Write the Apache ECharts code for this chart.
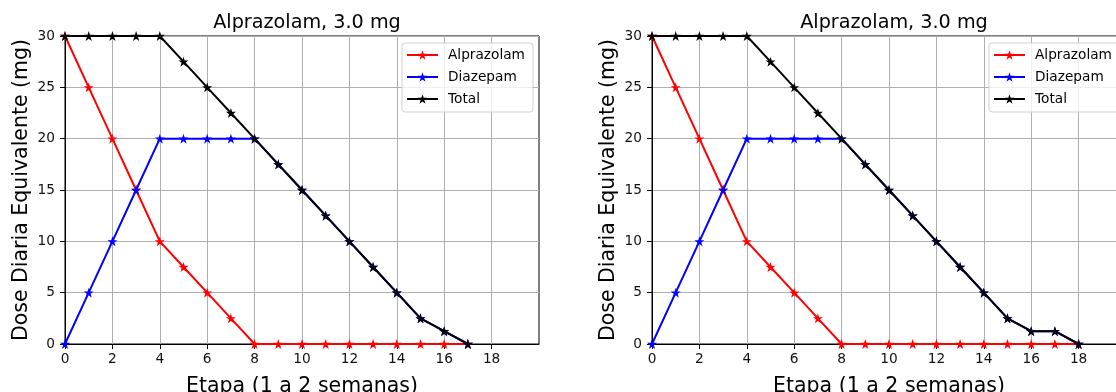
<!DOCTYPE html>
<html>
<head>
<meta charset="utf-8">
<script src="https://cdn.jsdelivr.net/npm/echarts@6/dist/echarts.min.js"></script>
<style>
  html, body { margin: 0; padding: 0; background: #fff; }
  #chart { width: 1116px; height: 392px; }
</style>
</head>
<body>
<div id="chart"></div>
<script>
// datos
const stepsA = [0, 1, 2, 3, 4, 5, 6, 7, 8, 9, 10, 11, 12, 13, 14, 15, 16, 17]
const alprazolamA = [30, 25, 20, 15, 10, 7.5, 5, 2.5, 0, 0, 0, 0, 0, 0, 0, 0, 0, 0]
const diazepamA = [0, 5, 10, 15, 20, 20, 20, 20, 20, 17.5, 15, 12.5, 10, 7.5, 5, 2.5, 1.25, 0]
const totalA = [30, 30, 30, 30, 30, 27.5, 25, 22.5, 20, 17.5, 15, 12.5, 10, 7.5, 5, 2.5, 1.25, 0]

const stepsB = [0, 1, 2, 3, 4, 5, 6, 7, 8, 9, 10, 11, 12, 13, 14, 15, 16, 17, 18]
const alprazolamB = [30, 25, 20, 15, 10, 7.5, 5, 2.5, 0, 0, 0, 0, 0, 0, 0, 0, 0, 0, 0]
const diazepamB = [0, 5, 10, 15, 20, 20, 20, 20, 20, 17.5, 15, 12.5, 10, 7.5, 5, 2.5, 1.25, 1.25, 0]
const totalB = [30, 30, 30, 30, 30, 27.5, 25, 22.5, 20, 17.5, 15, 12.5, 10, 7.5, 5, 2.5, 1.25, 1.25, 0]

const xTicks = [0, 2, 4, 6, 8, 10, 12, 14, 16, 18]
const titleText = 'Alprazolam, 3.0 mg'
const xName = 'Etapa (1 a 2 semanas)'
const yName = 'Dose Diaria Equivalente (mg)'
const seriesNames = ['Alprazolam', 'Diazepam', 'Total']
const colors = ['#ff0000', '#0000ff', '#000000']

const font = 'DejaVu Sans'
const plotW = 474
const plotH = 308
const gridLefts = [65, 652]

const pairs = (xs, ys) => xs.map((x, i) => [x, ys[i]])

const makeX = (idx) => ({
  type: 'value',
  gridIndex: idx,
  min: 0,
  max: 20,
  interval: 2,
  name: xName,
  nameLocation: 'middle',
  nameGap: 32,
  nameTextStyle: { fontFamily: font, fontSize: 20.5, color: '#000' },
  axisLine: { show: true, onZero: false, lineStyle: { color: '#000', width: 1 } },
  axisTick: { show: true, length: 5, customValues: xTicks, lineStyle: { color: '#000', width: 1 } },
  axisLabel: { customValues: xTicks, margin: 8, fontFamily: font, fontSize: 13.7, color: '#111' },
  splitLine: { show: true, lineStyle: { color: '#b0b0b0', width: 1 } }
})

const makeY = (idx) => ({
  type: 'value',
  gridIndex: idx,
  min: 0,
  max: 30,
  interval: 5,
  name: yName,
  nameLocation: 'middle',
  nameGap: 33,
  nameTextStyle: { fontFamily: font, fontSize: 20.5, color: '#000' },
  axisLine: { show: true, lineStyle: { color: '#000', width: 1 } },
  axisTick: { show: true, length: 5, lineStyle: { color: '#000', width: 1 } },
  axisLabel: { margin: 10, fontFamily: font, fontSize: 13.7, color: '#111' },
  splitLine: { show: true, lineStyle: { color: '#b0b0b0', width: 1 } }
})

const makeSeries = (idx, xs, lists) => lists.map((ys, i) => ({
  name: seriesNames[i],
  type: 'line',
  xAxisIndex: idx,
  yAxisIndex: idx,
  data: pairs(xs, ys),
  symbol: 'path://M50,0 L61.8,36.2 L100,36.2 L69.1,58.6 L80.9,95.1 L50,72.7 L19.1,95.1 L30.9,58.6 L0,36.2 L38.2,36.2 Z',
  symbolSize: 10,
  showAllSymbol: true,
  animation: false,
  clip: true,
  lineStyle: { color: colors[i], width: 2 },
  itemStyle: { color: colors[i] },
  emphasis: { disabled: true }
}))

const makeLegend = (left) => ({
  left: left,
  top: 43,
  orient: 'vertical',
  data: seriesNames,
  itemWidth: 31,
  itemHeight: 12,
  itemGap: 8,
  padding: [5, 8, 6, 4],
  backgroundColor: 'rgba(255,255,255,0.8)',
  borderColor: '#d0d0d0',
  borderWidth: 1,
  borderRadius: 3,
  textStyle: { fontFamily: font, fontSize: 13.7, color: '#000', padding: [0, 0, 0, 5] },
  selectedMode: false
})

const chart = echarts.init(document.getElementById('chart'), null, { renderer: 'canvas' })

const option = {
  backgroundColor: '#fff',
  animation: false,
  title: gridLefts.map(l => ({
    text: titleText,
    left: l + plotW / 2,
    top: 9,
    textAlign: 'center',
    textStyle: { fontFamily: font, fontSize: 19.2, fontWeight: 'normal', color: '#000' }
  })),
  legend: [makeLegend(402), makeLegend(989)],
  grid: gridLefts.map(l => ({
    left: l,
    top: 36,
    width: plotW,
    height: plotH,
    containLabel: false,
    outerBoundsMode: 'none',
    show: true,
    borderColor: '#000',
    borderWidth: 1,
    backgroundColor: 'transparent'
  })),
  xAxis: [makeX(0), makeX(1)],
  yAxis: [makeY(0), makeY(1)],
  series: [
    ...makeSeries(0, stepsA, [alprazolamA, diazepamA, totalA]),
    ...makeSeries(1, stepsB, [alprazolamB, diazepamB, totalB])
  ]
}

chart.setOption(option)
</script>
</body>
</html>
